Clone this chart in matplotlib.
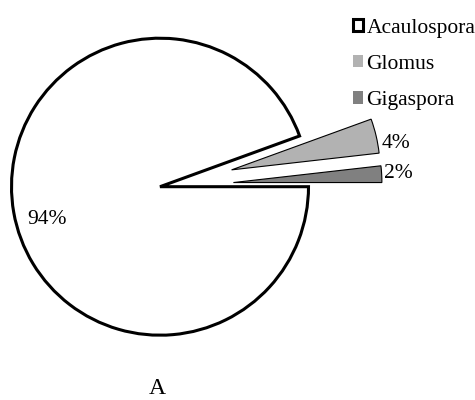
import matplotlib
matplotlib.use("Agg")
import matplotlib.pyplot as plt

categories = ["Acaulospora", "Glomus", "Gigaspora"]
values = [94.45, 3.75, 1.8]
colors = ["#ffffff", "#b2b2b2", "#808080"]
explode_frac = [0, 0.495, 0.495]
panel_label = "A"

plt.rcParams['font.family'] = ['Liberation Serif', 'DejaVu Serif']

fig = plt.figure(figsize=(4.75, 4.0), dpi=100)
ax = fig.add_axes([0, 0, 1, 1])

R = 148.5
explode = [e * R for e in explode_frac]
wedges, texts, autotexts = ax.pie(
    values, colors=colors, explode=explode, startangle=0, counterclock=False,
    radius=R, center=(160, 213.3), autopct='%1.0f%%', pctdistance=0.78,
    textprops=dict(fontsize=15.5),
    wedgeprops=dict(edgecolor='black', linewidth=0.8), frame=True)
ax.set_xlim(0, 475)
ax.set_ylim(0, 400)
ax.set_aspect('equal')
ax.axis('off')
wedges[0].set_linewidth(2.2)
wedges[0].set_joinstyle('miter')

# label positions (outside end for small slices)
autotexts[0].set_position((47.5, 181))
autotexts[0].set_ha('center'); autotexts[0].set_va('center')
autotexts[1].set_position((382, 257))
autotexts[1].set_ha('left'); autotexts[1].set_va('center')
autotexts[2].set_position((384, 227))
autotexts[2].set_ha('left'); autotexts[2].set_va('center')

leg = ax.legend(wedges, categories, loc='upper right',
                bbox_to_anchor=(484 / 475, 1 - 10 / 400), bbox_transform=fig.transFigure,
                frameon=False, fontsize=15.5, handlelength=0.5, handleheight=0.5,
                handletextpad=0.15, labelspacing=0.8, borderaxespad=0)
leg.legend_handles[0].set_linewidth(2.2)
leg.legend_handles[1].set_linewidth(0)
leg.legend_handles[2].set_linewidth(0)

ax.text(157, 6, panel_label, ha='center', va='baseline', fontsize=17)

fig.savefig("out.png", dpi=100)
